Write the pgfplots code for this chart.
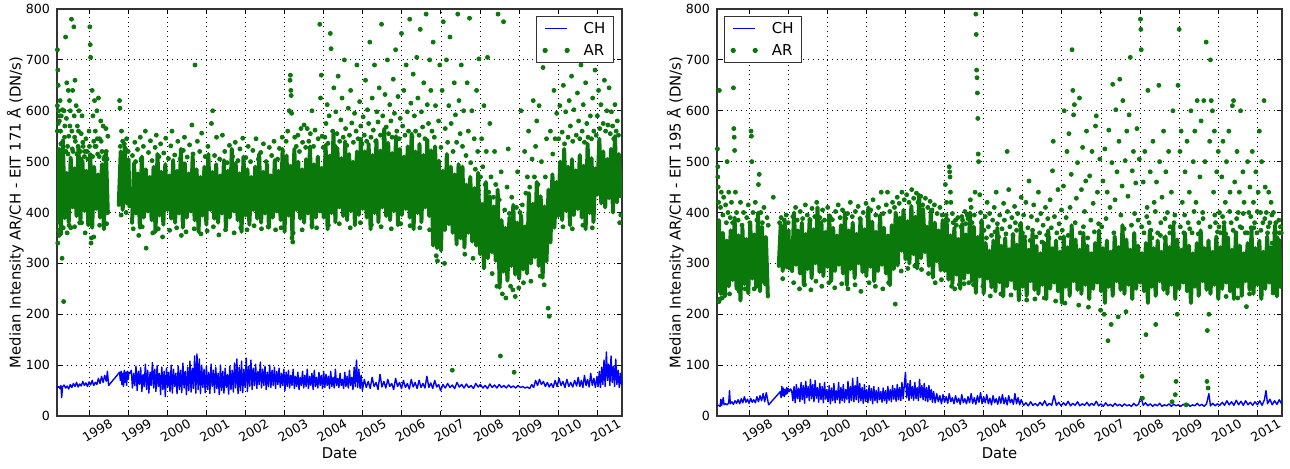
\documentclass[border=0pt]{standalone}
\usepackage{fontspec}
\setmainfont{DejaVu Sans}
\usepackage{pgfplots}
\pgfplotsset{compat=1.18}
\definecolor{argreen}{RGB}{10,120,10}
\definecolor{chblue}{RGB}{0,0,255}
\pgfplotsset{
 panel/.style={
  scale only axis, width=282.5pt, height=203.5pt,
  xmin=1997.18, xmax=2011.63, ymin=0, ymax=800,
  xtick={1998,1999,2000,2001,2002,2003,2004,2005,2006,2007,2008,2009,2010,2011},
  xticklabels={1998,1999,2000,2001,2002,2003,2004,2005,2006,2007,2008,2009,2010,2011},
  ytick={0,100,200,300,400,500,600,700,800},
  grid=major, major grid style={dotted, black, line width=0.45pt},
  tick align=inside, major tick length=2.5pt, tick style={black, line width=0.5pt},
  axis line style={black!80, line width=0.6pt},
  ticklabel style={font=\fontsize{6.3}{7.5}\selectfont},
  /pgf/number format/assume math mode=true,
  xticklabel style={rotate=30, anchor=center, yshift=-8.3pt, inner sep=0pt},
  label style={font=\fontsize{7.4}{9}\selectfont},
  xlabel={Date},
  xlabel style={at={(axis description cs:0.5,-0.092)}, anchor=center},
  ylabel style={at={(axis description cs:-0.074,0.5)}, anchor=center},
  legend cell align=left,
  legend style={draw=black!80, line width=0.6pt, font=\fontsize{7.5}{9}\selectfont,
    inner xsep=3pt, inner ysep=1.8pt, row sep=2.7pt,
    nodes={inner sep=1pt, text height=5.5pt, text depth=0.8pt},
    /tikz/every odd column/.append style={column sep=6pt}},
 },
 chline/.style={chblue, line width=0.7pt, line join=round, mark=none,
   legend image code/.code={\draw[chblue, line width=0.5pt] (0pt,0pt) -- (11pt,0pt);}},
 arcore/.style={draw=argreen, line width=2pt, line join=round, line cap=round, mark=none, forget plot},
 ardots/.style={only marks, mark=*, mark size=1pt, draw=argreen, fill=argreen, mark options={draw=argreen, fill=argreen},
   legend image code/.code={\fill[argreen] (0pt,0pt) circle (1pt); \fill[argreen] (11pt,0pt) circle (1pt);}},
}
\begin{document}
\begin{tikzpicture}
\useasboundingbox (0,0) rectangle (645pt,234pt);
% ================= LEFT PANEL: EIT 171 =================
\begin{axis}[panel, at={(28.5pt,26pt)}, anchor=south west,
  ylabel={Median Intensity AR/CH - EIT 171 Å (DN/s)},
  legend style={at={(0.986,0.983)}, anchor=north east}]
\addplot[chline] coordinates {
(1997.18,55)(1997.22,58)(1997.26,54)(1997.28,60)(1997.30,36)(1997.32,57)(1997.36,61)(1997.40,55)(1997.44,59)(1997.48,53)
(1997.52,62)(1997.56,56)(1997.60,64)(1997.64,58)(1997.68,66)(1997.72,57)(1997.76,63)(1997.80,59)(1997.84,68)(1997.88,60)
(1997.92,65)(1997.96,58)(1998.00,67)(1998.04,61)(1998.08,70)(1998.12,60)(1998.16,66)(1998.20,62)(1998.24,74)(1998.28,64)
(1998.32,78)(1998.36,66)(1998.40,80)(1998.44,68)(1998.47,88)(1998.50,60)(1998.78,86)
(1998.80,70)(1998.82,88)(1998.84,62)(1998.86,84)(1998.88,58)(1998.90,90)(1998.92,66)(1998.94,86)(1998.96,60)(1998.98,88)(1999.00,72)(1999.02,86)(1999.05,84)
(1999.08,90)(1999.11,55)(1999.14,84)(1999.17,60)(1999.20,98)(1999.23,50)(1999.26,88)(1999.29,62)(1999.32,95)(1999.35,48)
(1999.38,82)(1999.41,58)(1999.44,102)(1999.47,52)(1999.50,90)(1999.53,45)(1999.56,86)(1999.59,60)(1999.62,105)(1999.65,55)
(1999.68,92)(1999.71,48)(1999.74,99)(1999.77,58)(1999.80,84)(1999.83,42)(1999.86,96)(1999.89,52)(1999.92,88)(1999.95,38)
(1999.98,94)(2000.01,56)(2000.04,86)(2000.07,48)(2000.10,100)(2000.13,45)(2000.16,92)(2000.19,58)(2000.22,84)(2000.25,44)
(2000.28,98)(2000.31,52)(2000.34,90)(2000.37,46)(2000.40,104)(2000.43,55)(2000.46,88)(2000.49,42)(2000.52,96)(2000.55,50)
(2000.58,108)(2000.61,47)(2000.64,94)(2000.67,54)(2000.70,118)(2000.73,45)(2000.76,122)(2000.79,52)(2000.82,112)(2000.85,44)
(2000.88,100)(2000.91,56)(2000.94,92)(2000.97,46)(2001.00,98)(2001.03,52)(2001.06,86)(2001.09,44)(2001.12,102)(2001.15,58)
(2001.18,90)(2001.21,46)(2001.24,96)(2001.27,54)(2001.30,84)(2001.33,42)(2001.36,100)(2001.39,50)(2001.42,88)(2001.45,45)
(2001.48,94)(2001.51,56)(2001.54,82)(2001.57,43)(2001.60,98)(2001.63,52)(2001.66,90)(2001.69,47)(2001.72,104)(2001.75,55)
(2001.78,112)(2001.81,44)(2001.84,96)(2001.87,50)(2001.90,108)(2001.93,46)(2001.96,92)(2001.99,56)(2002.02,114)(2002.05,48)
(2002.08,98)(2002.11,58)(2002.14,110)(2002.17,52)(2002.20,94)(2002.23,60)(2002.26,102)(2002.29,54)(2002.32,88)(2002.35,62)
(2002.38,106)(2002.41,55)(2002.44,92)(2002.47,60)(2002.50,98)(2002.53,52)(2002.56,86)(2002.59,58)(2002.62,100)(2002.65,56)
(2002.68,90)(2002.71,60)(2002.74,96)(2002.77,54)(2002.80,88)(2002.83,62)(2002.86,94)(2002.89,56)(2002.92,84)(2002.95,60)
(2002.98,92)(2003.01,50)(2003.04,86)(2003.07,58)(2003.10,90)(2003.13,55)(2003.16,80)(2003.19,60)(2003.22,92)(2003.25,54)
(2003.28,78)(2003.31,58)(2003.34,86)(2003.37,52)(2003.40,76)(2003.43,60)(2003.46,88)(2003.49,55)(2003.52,80)(2003.55,58)
(2003.58,92)(2003.61,54)(2003.64,78)(2003.67,60)(2003.70,84)(2003.73,52)(2003.76,90)(2003.79,58)(2003.82,76)(2003.85,55)
(2003.88,86)(2003.91,60)(2003.94,80)(2003.97,54)(2004.00,88)(2004.03,56)(2004.06,82)(2004.09,60)(2004.12,78)(2004.15,54)
(2004.18,88)(2004.21,58)(2004.24,76)(2004.27,55)(2004.30,92)(2004.33,60)(2004.36,74)(2004.39,56)(2004.42,84)(2004.45,60)
(2004.48,72)(2004.51,54)(2004.54,86)(2004.57,58)(2004.60,78)(2004.63,55)(2004.66,90)(2004.69,60)(2004.72,76)(2004.75,52)
(2004.78,96)(2004.81,58)(2004.84,110)(2004.87,56)(2004.90,92)(2004.93,54)(2004.96,80)(2004.99,50)
(2005.04,72)(2005.09,56)(2005.14,68)(2005.19,54)(2005.24,76)(2005.29,58)(2005.34,66)(2005.39,52)(2005.44,82)(2005.49,57)
(2005.54,68)(2005.59,55)(2005.64,72)(2005.69,58)(2005.74,64)(2005.79,52)(2005.84,74)(2005.89,58)(2005.94,66)(2005.99,54)
(2006.04,70)(2006.09,56)(2006.14,64)(2006.19,53)(2006.24,72)(2006.29,57)(2006.34,66)(2006.39,54)(2006.44,70)(2006.49,56)
(2006.54,64)(2006.59,55)(2006.64,78)(2006.69,56)(2006.74,65)(2006.79,54)(2006.84,70)(2006.89,57)(2006.94,62)(2006.99,50)
(2007.05,62)(2007.11,55)(2007.17,64)(2007.23,56)(2007.29,61)(2007.35,54)(2007.41,66)(2007.47,57)(2007.53,62)(2007.59,55)
(2007.65,63)(2007.71,56)(2007.77,60)(2007.83,54)(2007.89,64)(2007.95,57)(2008.01,62)(2008.07,55)(2008.13,60)(2008.19,54)
(2008.25,63)(2008.31,56)(2008.37,61)(2008.43,55)(2008.49,62)(2008.55,56)(2008.61,60)(2008.67,55)(2008.73,61)(2008.79,56)
(2008.85,59)(2008.91,55)(2008.97,60)(2009.03,56)(2009.09,58)(2009.15,55)(2009.21,57)(2009.27,54)
(2009.32,62)(2009.37,56)(2009.42,70)(2009.47,60)(2009.52,72)(2009.57,62)(2009.62,68)(2009.67,58)(2009.72,66)(2009.77,57)
(2009.82,64)(2009.87,56)(2009.92,70)(2009.97,58)(2010.02,74)(2010.07,60)(2010.12,68)(2010.17,56)(2010.22,72)(2010.27,58)
(2010.32,66)(2010.37,57)(2010.42,70)(2010.47,59)(2010.51,76)(2010.55,58)(2010.59,70)(2010.63,56)(2010.67,80)(2010.71,60)
(2010.75,72)(2010.79,57)(2010.83,84)(2010.87,60)(2010.91,74)(2010.95,56)(2010.99,78)
(2011.02,58)(2011.05,88)(2011.08,56)(2011.11,96)(2011.14,62)(2011.17,110)(2011.20,58)(2011.23,126)(2011.26,70)(2011.29,102)
(2011.32,60)(2011.35,118)(2011.38,66)(2011.41,98)(2011.44,58)(2011.47,112)(2011.50,62)(2011.53,90)(2011.56,56)(2011.59,84)(2011.62,60)
};
\addlegendentry{CH}
% AR dense core: daily values alternate low/high, drawn as vertical streaks
\addplot[arcore] coordinates {
(1997.18,380)(1997.23,525)(1997.28,357)(1997.33,540)(1997.38,389)(1997.43,478)(1997.48,381)(1997.53,508)(1997.58,410)(1997.63,487)
(1997.68,393)(1997.73,530)(1997.78,385)(1997.83,502)(1997.88,403)(1997.93,482)(1997.98,375)(1998.03,515)(1998.08,370)(1998.13,490)
(1998.18,407)(1998.23,475)(1998.28,390)(1998.33,495)(1998.38,367)(1998.43,520)(1998.48,399)
};
\addplot[arcore] coordinates {
(1998.76,415)(1998.81,520)(1998.86,405)(1998.91,530)(1998.96,418)(1999.01,505)(1999.03,412)
};
\addplot[arcore] coordinates {
(1999.10,380)(1999.15,497)(1999.20,398)(1999.25,477)(1999.30,370)(1999.35,510)(1999.40,390)(1999.45,485)(1999.50,402)(1999.55,470)
(1999.60,385)(1999.65,490)(1999.70,362)(1999.75,515)(1999.80,394)(1999.85,480)(1999.90,376)(1999.95,495)(2000.00,405)(2000.05,473)
(2000.10,388)(2000.15,503)(2000.20,380)(2000.25,482)(2000.30,398)(2000.35,525)(2000.40,370)(2000.45,497)(2000.50,390)(2000.55,477)
(2000.60,402)(2000.65,510)(2000.70,385)(2000.75,485)(2000.80,362)(2000.85,470)(2000.90,394)(2000.95,490)(2001.00,376)(2001.05,515)
(2001.10,405)(2001.15,480)(2001.20,388)(2001.25,495)(2001.30,380)(2001.35,473)(2001.40,398)(2001.45,503)(2001.50,370)(2001.55,482)
(2001.60,390)(2001.65,525)(2001.70,402)(2001.75,497)(2001.80,385)(2001.85,477)(2001.90,362)(2001.95,510)(2002.00,394)(2002.05,485)
(2002.10,376)(2002.15,470)(2002.20,405)(2002.25,490)(2002.30,388)(2002.35,515)(2002.40,380)(2002.45,480)(2002.50,398)(2002.55,495)
(2002.60,370)(2002.65,473)(2002.70,390)(2002.75,503)(2002.80,402)(2002.85,482)(2002.90,385)(2002.95,525)(2003.00,362)(2003.05,512)
(2003.10,394)(2003.15,492)(2003.20,355)(2003.25,525)(2003.30,405)(2003.35,500)(2003.40,388)(2003.45,485)(2003.50,380)(2003.55,505)
(2003.60,398)(2003.65,530)(2003.70,370)(2003.75,495)(2003.80,390)(2003.85,510)(2003.90,402)(2003.95,488)(2004.00,390)(2004.05,533)
(2004.10,367)(2004.15,512)(2004.20,399)(2004.25,555)(2004.30,381)(2004.35,527)(2004.40,410)(2004.45,507)(2004.50,393)(2004.55,540)
(2004.60,385)(2004.65,515)(2004.70,403)(2004.75,500)(2004.80,375)(2004.85,520)(2004.90,395)(2004.95,545)(2005.00,407)(2005.05,520)
(2005.10,390)(2005.15,535)(2005.20,367)(2005.25,513)(2005.30,399)(2005.35,543)(2005.40,381)(2005.45,522)(2005.50,410)(2005.55,565)
(2005.60,393)(2005.65,537)(2005.70,385)(2005.75,517)(2005.80,403)(2005.85,550)(2005.90,375)(2005.95,525)(2006.00,395)(2006.05,510)
(2006.10,407)(2006.15,530)(2006.20,390)(2006.25,555)(2006.30,367)(2006.35,520)(2006.40,399)(2006.45,535)(2006.50,381)(2006.55,513)
(2006.60,410)(2006.65,543)(2006.70,393)(2006.75,522)(2006.80,335)(2006.85,530)(2006.90,330)(2006.95,502)(2007.00,325)(2007.05,482)
(2007.10,365)(2007.15,515)(2007.20,377)(2007.25,490)(2007.30,360)(2007.35,475)(2007.40,337)(2007.45,495)(2007.50,349)(2007.55,490)
(2007.60,331)(2007.65,455)(2007.70,360)(2007.75,470)(2007.80,343)(2007.85,448)(2007.90,335)(2007.95,478)(2008.00,318)(2008.05,417)
(2008.10,290)(2008.15,460)(2008.20,310)(2008.25,432)(2008.30,322)(2008.35,412)(2008.40,305)(2008.45,445)(2008.50,252)(2008.55,385)
(2008.60,284)(2008.65,370)(2008.70,266)(2008.75,390)(2008.80,295)(2008.85,415)(2008.90,278)(2008.95,380)(2009.00,270)(2009.05,395)
(2009.10,288)(2009.15,373)(2009.20,280)(2009.25,438)(2009.30,300)(2009.35,417)(2009.40,312)(2009.45,460)(2009.50,295)(2009.55,432)
(2009.60,272)(2009.65,412)(2009.70,304)(2009.75,445)(2009.80,341)(2009.85,475)(2009.90,370)(2009.95,460)(2010.00,393)(2010.05,500)
(2010.10,385)(2010.15,525)(2010.20,403)(2010.25,490)(2010.30,375)(2010.35,505)(2010.40,395)(2010.45,483)(2010.50,407)(2010.55,513)
(2010.60,390)(2010.65,492)(2010.70,367)(2010.75,535)(2010.80,399)(2010.85,507)(2010.90,381)(2010.95,487)(2011.00,435)(2011.05,545)
(2011.10,418)(2011.15,520)(2011.20,410)(2011.25,505)(2011.30,428)(2011.35,525)(2011.40,400)(2011.45,550)(2011.50,420)(2011.55,515)
(2011.60,432)
};
\addplot[ardots] coordinates {
(1997.19,720)(1997.20,680)(1997.21,650)(1997.19,610)(1997.22,600)(1997.20,340)(1997.23,355)(1997.24,580)(1997.26,620)(1997.27,560)
(1997.29,590)(1997.31,310)(1997.33,540)(1997.35,225)(1997.36,600)(1997.38,570)(1997.40,745)(1997.41,520)(1997.43,655)(1997.44,360)
(1997.45,530)(1997.47,640)(1997.48,550)(1997.50,620)(1997.52,600)(1997.53,370)(1997.55,780)(1997.56,560)(1997.58,640)(1997.59,520)
(1997.61,765)(1997.62,590)(1997.64,660)(1997.65,540)(1997.67,610)(1997.70,570)(1997.72,530)(1997.74,600)(1997.76,380)(1997.78,520)
(1997.80,555)(1997.82,590)(1997.85,530)(1997.88,510)(1997.90,360)(1997.92,545)(1997.95,520)(1998.00,560)(1998.02,765)(1998.03,730)
(1998.04,705)(1998.05,340)(1998.06,350)(1998.08,640)(1998.10,590)(1998.12,540)(1998.14,620)(1998.16,560)(1998.18,530)(1998.20,600)
(1998.22,515)(1998.24,625)(1998.27,545)(1998.30,580)(1998.33,520)(1998.36,570)(1998.40,510)(1998.43,565)(1998.46,505)(1998.48,550)
(1997.19,560)(1997.21,575)(1997.25,590)(1997.28,535)(1997.32,602)(1997.37,548)(1997.42,585)(1997.46,515)(1997.51,570)(1997.57,525)
(1997.63,548)(1997.69,515)(1997.73,560)(1997.79,505)(1997.84,538)(1997.89,520)(1997.97,505)(1998.01,530)(1998.09,510)(1998.15,530)
(1998.21,545)(1998.26,510)(1998.31,540)(1998.38,505)(1998.44,520)(1997.22,365)(1997.34,370)(1997.49,375)(1997.63,372)(1997.81,380)
(1998.12,352)(1998.27,375)(1998.45,378)
(1998.78,620)(1998.79,605)(1998.80,530)(1998.83,560)(1998.86,540)(1998.90,535)(1998.93,525)(1998.96,545)(1999.00,520)(1998.82,395)(1998.95,400)
(1999.11,512)(1999.17,538)(1999.19,500)(1999.24,524)(1999.31,548)(1999.33,505)(1999.39,530)(1999.44,560)(1999.52,518)(1999.57,541)
(1999.61,502)(1999.69,528)(1999.72,552)(1999.79,510)(1999.83,535)(1999.91,517)(1999.96,546)(2000.03,506)(2000.09,531)(2000.12,560)
(2000.19,513)(2000.27,540)(2000.33,505)(2000.41,522)(2000.44,548)(2000.51,509)(2000.57,533)(2000.63,572)(2000.66,515)(2000.71,690)
(2000.77,540)(2000.83,520)(2000.88,556)(2000.97,510)(2001.04,530)(2001.13,575)(2001.16,600)(2001.21,512)(2001.26,548)(2001.34,505)
(2001.41,552)(2001.47,520)(2001.53,498)(2001.59,532)(2001.67,510)(2001.74,538)(2001.81,502)(2001.86,525)(2001.93,546)(2002.01,508)
(2002.07,530)(2002.13,500)(2002.19,522)(2002.27,545)(2002.33,505)(2002.39,518)(2002.46,535)(2002.53,500)(2002.61,528)(2002.67,512)
(2002.73,540)(2002.82,505)(2002.87,526)(2002.94,548)
(1999.13,368)(1999.27,355)(1999.36,372)(1999.46,330)(1999.63,360)(1999.77,368)(1999.88,352)(2000.06,365)(2000.24,370)(2000.36,355)
(2000.48,362)(2000.69,368)(2000.86,358)(2001.02,364)(2001.18,372)(2001.32,356)(2001.49,366)(2001.71,360)(2001.88,370)(2002.04,366)
(2002.22,374)(2002.41,368)(2002.58,372)(2002.77,366)(2002.91,370)
(2003.04,540)(2003.08,560)(2003.12,600)(2003.14,660)(2003.15,670)(2003.16,640)(2003.17,630)(2003.18,595)(2003.19,350)(2003.21,342)
(2003.22,360)(2003.26,548)(2003.30,530)(2003.34,552)(2003.38,520)(2003.42,565)(2003.46,538)(2003.50,572)(2003.54,528)(2003.58,565)
(2003.62,540)(2003.66,555)(2003.70,600)(2003.74,530)(2003.78,562)(2003.82,370)(2003.86,545)(2003.90,770)(2003.92,625)(2003.94,670)
(2003.96,550)(2003.99,528)(2003.70,375)(2003.45,366)
(2004.03,548)(2004.06,575)(2004.09,612)(2004.11,536)(2004.14,590)(2004.17,752)(2004.19,722)(2004.23,560)(2004.26,645)(2004.29,530)
(2004.31,598)(2004.34,555)(2004.37,668)(2004.41,540)(2004.44,582)(2004.47,625)(2004.50,548)(2004.53,700)(2004.56,565)(2004.59,532)
(2004.63,605)(2004.66,552)(2004.69,640)(2004.72,576)(2004.76,538)(2004.79,595)(2004.83,560)(2004.85,690)(2004.88,545)(2004.92,618)
(2004.95,570)(2004.98,535)
(2005.01,588)(2005.04,552)(2005.07,660)(2005.10,540)(2005.12,602)(2005.15,575)(2005.18,735)(2005.21,548)(2005.24,625)(2005.27,562)
(2005.30,690)(2005.33,540)(2005.36,598)(2005.39,578)(2005.42,645)(2005.45,552)(2005.48,770)(2005.51,590)(2005.54,545)(2005.57,632)
(2005.60,568)(2005.63,700)(2005.66,555)(2005.69,612)(2005.72,580)(2005.75,548)(2005.78,662)(2005.81,595)(2005.84,720)(2005.87,560)
(2005.90,628)(2005.93,545)(2005.96,585)(2005.99,752)
(2006.02,570)(2006.05,640)(2006.08,552)(2006.11,690)(2006.14,598)(2006.17,560)(2006.20,780)(2006.23,615)(2006.26,548)(2006.29,672)
(2006.32,590)(2006.35,560)(2006.38,705)(2006.41,625)(2006.44,552)(2006.47,760)(2006.50,598)(2006.53,568)(2006.56,655)(2006.59,545)
(2006.62,790)(2006.65,612)(2006.68,575)(2006.71,700)(2006.74,640)(2006.77,560)(2006.80,735)
(2004.12,375)(2004.40,378)(2004.68,370)(2004.94,380)(2005.22,376)(2005.47,372)(2005.73,368)(2005.97,378)(2006.21,374)(2006.46,370)(2006.71,366)
(2006.83,548)(2006.86,610)(2006.88,315)(2006.91,305)(2006.94,580)(2006.97,690)(2007.00,528)(2007.03,640)(2007.06,775)(2007.09,300)
(2007.11,565)(2007.14,700)(2007.17,538)(2007.20,610)(2007.23,745)(2007.26,575)(2007.29,90)(2007.31,520)(2007.34,655)(2007.37,592)
(2007.40,538)(2007.43,790)(2007.46,620)(2007.49,555)(2007.52,690)(2007.55,530)(2007.58,600)(2007.61,318)(2007.64,512)(2007.67,655)
(2007.70,560)(2007.73,782)(2007.76,498)(2007.79,600)(2007.82,310)(2007.85,545)(2007.88,485)(2007.91,640)(2007.94,520)(2007.97,702)
(2008.01,470)(2008.04,545)(2008.07,490)(2008.10,610)(2008.13,455)(2008.16,520)(2008.19,705)(2008.22,440)(2008.25,575)(2008.28,470)
(2008.31,280)(2008.34,430)(2008.37,520)(2008.40,455)(2008.43,255)(2008.46,790)(2008.49,425)(2008.52,118)(2008.54,480)(2008.57,240)
(2008.60,775)(2008.63,405)(2008.66,232)(2008.69,450)(2008.72,525)(2008.75,398)(2008.78,255)(2008.81,430)(2008.84,248)(2008.87,86)
(2008.90,235)(2008.93,410)(2008.96,480)(2008.99,252)(2009.02,400)(2009.05,600)(2009.08,415)(2009.11,262)(2009.14,520)(2009.17,438)
(2009.21,470)(2009.24,560)(2009.27,450)(2009.30,265)(2009.33,505)(2009.36,620)(2009.39,470)(2009.42,530)(2009.45,580)(2009.48,455)
(2009.51,610)(2009.54,275)(2009.57,500)(2009.61,685)(2009.64,258)(2009.67,470)(2009.70,545)(2009.74,212)(2009.77,196)(2009.80,560)
(2009.83,700)(2009.86,515)(2009.89,640)(2009.92,545)(2009.96,595)
(2010.01,545)(2010.04,610)(2010.07,705)(2010.10,558)(2010.13,650)(2010.16,535)(2010.19,598)(2010.22,725)(2010.25,548)(2010.28,620)
(2010.31,570)(2010.34,668)(2010.37,540)(2010.40,602)(2010.43,760)(2010.46,552)(2010.49,635)(2010.52,580)(2010.55,545)(2010.58,690)
(2010.61,560)(2010.64,612)(2010.67,538)(2010.70,655)(2010.73,575)(2010.76,548)(2010.79,700)(2010.82,590)(2010.85,545)(2010.88,625)
(2010.91,560)(2010.94,680)(2010.97,552)
(2011.00,590)(2011.03,640)(2011.06,565)(2011.09,612)(2011.12,780)(2011.15,575)(2011.18,660)(2011.21,560)(2011.24,600)(2011.27,572)
(2011.30,645)(2011.33,555)(2011.36,598)(2011.39,570)(2011.42,545)(2011.45,612)(2011.48,560)(2011.51,580)(2011.54,552)(2011.57,380)
(2011.60,395)(2010.12,372)(2010.36,368)(2010.63,375)(2010.87,370)
};
\addlegendentry{AR}
\end{axis}
% ================= RIGHT PANEL: EIT 195 =================
\begin{axis}[panel, at={(358.5pt,26pt)}, anchor=south west,
  ylabel={Median Intensity AR/CH - EIT 195 Å (DN/s)},
  legend style={at={(0.0124,0.983)}, anchor=north west}]
\addplot[chline] coordinates {
(1997.18,20)(1997.22,21)(1997.26,19)(1997.28,33)(1997.30,21)(1997.34,36)(1997.36,22)(1997.40,24)(1997.44,22)(1997.48,26)
(1997.50,50)(1997.52,24)(1997.56,28)(1997.60,23)(1997.64,30)(1997.68,25)(1997.72,32)(1997.76,24)(1997.80,34)(1997.84,26)
(1997.88,38)(1997.92,27)(1997.96,33)(1998.00,25)(1998.04,35)(1998.08,27)(1998.12,32)(1998.16,26)(1998.20,38)(1998.24,28)
(1998.28,40)(1998.32,30)(1998.36,44)(1998.40,28)(1998.44,46)(1998.48,30)(1998.50,22)(1998.80,48)
(1998.82,36)(1998.84,58)(1998.86,40)(1998.88,55)(1998.90,38)(1998.92,52)(1998.94,42)(1998.96,56)(1998.98,44)(1999.00,54)(1999.03,48)(1999.06,53)
(1999.09,50)(1999.12,30)(1999.15,58)(1999.18,26)(1999.21,62)(1999.24,34)(1999.27,55)(1999.30,28)(1999.33,66)(1999.36,32)
(1999.39,60)(1999.42,25)(1999.45,68)(1999.48,36)(1999.51,58)(1999.54,30)(1999.57,72)(1999.60,34)(1999.63,62)(1999.66,28)
(1999.69,70)(1999.72,35)(1999.75,56)(1999.78,27)(1999.81,64)(1999.84,32)(1999.87,58)(1999.90,26)(1999.93,66)(1999.96,33)
(1999.99,52)(2000.02,28)(2000.05,60)(2000.08,24)(2000.11,55)(2000.14,30)(2000.17,64)(2000.20,26)(2000.23,50)(2000.26,32)
(2000.29,66)(2000.32,25)(2000.35,56)(2000.38,30)(2000.41,62)(2000.44,27)(2000.47,52)(2000.50,33)(2000.53,68)(2000.56,26)
(2000.59,58)(2000.62,30)(2000.65,74)(2000.68,28)(2000.71,60)(2000.74,32)(2000.77,76)(2000.80,27)(2000.83,64)(2000.86,30)
(2000.89,56)(2000.92,25)(2000.95,62)(2000.98,29)(2001.01,52)(2001.04,26)(2001.07,60)(2001.10,31)(2001.13,54)(2001.16,24)
(2001.19,58)(2001.22,30)(2001.25,50)(2001.28,26)(2001.31,56)(2001.34,32)(2001.37,48)(2001.40,27)(2001.43,55)(2001.46,30)
(2001.49,50)(2001.52,25)(2001.55,58)(2001.58,31)(2001.61,52)(2001.64,28)(2001.67,60)(2001.70,33)(2001.73,54)(2001.76,29)
(2001.79,62)(2001.82,32)(2001.85,56)(2001.88,30)(2001.91,66)(2001.94,34)(2001.97,60)(2002.00,86)(2002.03,36)(2002.06,64)
(2002.09,30)(2002.12,70)(2002.15,35)(2002.18,58)(2002.21,31)(2002.24,66)(2002.27,34)(2002.30,56)(2002.33,30)(2002.36,72)
(2002.39,36)(2002.42,60)(2002.45,32)(2002.48,64)(2002.51,30)(2002.54,56)(2002.57,28)(2002.60,60)(2002.63,32)(2002.66,52)(2002.69,27)
(2002.72,48)(2002.76,26)(2002.80,44)(2002.84,28)(2002.88,40)(2002.92,24)(2002.96,42)(2003.00,27)(2003.04,38)(2003.08,25)
(2003.12,44)(2003.16,28)(2003.20,36)(2003.24,24)(2003.28,40)(2003.32,27)(2003.36,35)(2003.40,23)(2003.44,42)(2003.48,26)
(2003.52,34)(2003.56,24)(2003.60,38)(2003.64,26)(2003.68,44)(2003.72,25)(2003.76,36)(2003.80,23)(2003.84,40)(2003.88,27)
(2003.92,46)(2003.96,24)(2004.00,38)(2004.04,26)(2004.08,42)(2004.12,24)(2004.16,35)(2004.20,22)(2004.24,40)(2004.28,26)
(2004.32,34)(2004.36,23)(2004.40,38)(2004.44,25)(2004.48,42)(2004.52,24)(2004.56,36)(2004.60,22)(2004.64,40)(2004.68,26)
(2004.72,33)(2004.76,23)(2004.80,44)(2004.84,24)(2004.88,36)(2004.92,22)(2004.96,32)
(2005.02,21)(2005.08,26)(2005.14,20)(2005.20,28)(2005.26,21)(2005.32,25)(2005.38,20)(2005.44,27)(2005.50,21)(2005.56,30)
(2005.62,20)(2005.68,25)(2005.74,21)(2005.80,40)(2005.86,21)(2005.92,27)(2005.98,20)(2006.04,26)(2006.10,21)(2006.16,29)
(2006.22,20)(2006.28,25)(2006.34,21)(2006.40,28)(2006.46,20)(2006.52,24)(2006.58,21)(2006.64,27)(2006.70,20)(2006.76,25)
(2006.82,21)(2006.88,29)(2006.94,20)(2007.00,24)(2007.06,19)(2007.12,26)(2007.18,20)(2007.24,23)(2007.30,19)(2007.36,25)
(2007.42,20)(2007.48,23)(2007.54,19)(2007.60,24)(2007.66,20)(2007.72,22)(2007.78,19)(2007.84,25)(2007.90,20)(2007.96,23)
(2008.02,38)(2008.08,21)(2008.14,26)(2008.20,20)(2008.26,24)(2008.32,19)(2008.38,23)(2008.44,20)(2008.50,25)(2008.56,19)
(2008.62,22)(2008.68,20)(2008.74,24)(2008.80,19)(2008.86,23)(2008.92,20)(2008.98,22)(2009.04,19)(2009.10,23)(2009.16,20)
(2009.22,24)(2009.28,19)(2009.34,22)(2009.40,20)(2009.46,25)(2009.52,20)(2009.58,23)(2009.64,19)(2009.70,24)(2009.76,44)
(2009.80,20)(2009.86,25)(2009.92,20)(2009.98,24)(2010.04,21)(2010.10,27)(2010.16,21)(2010.22,30)(2010.28,22)(2010.34,28)
(2010.40,21)(2010.46,31)(2010.52,22)(2010.58,29)(2010.64,21)(2010.70,30)(2010.76,22)(2010.82,27)(2010.88,21)(2010.94,28)
(2011.00,22)(2011.06,30)(2011.12,21)(2011.18,32)(2011.22,50)(2011.26,24)(2011.32,33)(2011.38,22)(2011.44,30)(2011.50,23)
(2011.56,32)(2011.62,24)
};
\addlegendentry{CH}
\addplot[arcore] coordinates {
(1997.18,245)(1997.23,385)(1997.28,240)(1997.33,360)(1997.38,235)(1997.43,345)(1997.48,255)(1997.53,365)(1997.58,267)(1997.63,390)
(1997.68,250)(1997.73,355)(1997.78,227)(1997.83,370)(1997.88,259)(1997.93,348)(1997.98,241)(1998.03,378)(1998.08,270)(1998.13,357)
(1998.18,253)(1998.23,400)(1998.28,245)(1998.33,372)(1998.38,263)(1998.43,352)(1998.48,235)
};
\addplot[arcore] coordinates {
(1998.76,295)(1998.81,375)(1998.86,285)(1998.91,380)(1998.96,292)(1999.01,365)(1999.03,290)
};
\addplot[arcore] coordinates {
(1999.10,285)(1999.15,400)(1999.20,297)(1999.25,365)(1999.30,280)(1999.35,380)(1999.40,257)(1999.45,358)(1999.50,289)(1999.55,388)
(1999.60,271)(1999.65,367)(1999.70,300)(1999.75,410)(1999.80,283)(1999.85,382)(1999.90,275)(1999.95,362)(2000.00,293)(2000.05,395)
(2000.10,265)(2000.15,370)(2000.20,285)(2000.25,355)(2000.30,297)(2000.35,375)(2000.40,280)(2000.45,400)(2000.50,257)(2000.55,365)
(2000.60,289)(2000.65,380)(2000.70,271)(2000.75,358)(2000.80,300)(2000.85,388)(2000.90,283)(2000.95,367)(2001.00,275)(2001.05,410)
(2001.10,293)(2001.15,382)(2001.20,265)(2001.25,362)(2001.30,285)(2001.35,395)(2001.40,297)(2001.45,370)(2001.50,280)(2001.55,355)
(2001.60,257)(2001.65,375)(2001.70,289)(2001.75,400)(2001.80,296)(2001.85,390)(2001.90,325)(2001.95,405)(2002.00,308)(2002.05,383)
(2002.10,300)(2002.15,413)(2002.20,318)(2002.25,392)(2002.30,290)(2002.35,435)(2002.40,310)(2002.45,407)(2002.50,322)(2002.55,372)
(2002.60,295)(2002.65,405)(2002.70,272)(2002.75,380)(2002.80,304)(2002.85,365)(2002.90,286)(2002.95,385)(2003.00,285)(2003.05,390)
(2003.10,268)(2003.15,355)(2003.20,260)(2003.25,370)(2003.30,278)(2003.35,348)(2003.40,250)(2003.45,378)(2003.50,270)(2003.55,357)
(2003.60,282)(2003.65,400)(2003.70,265)(2003.75,372)(2003.80,242)(2003.85,352)(2003.90,274)(2003.95,385)(2004.00,241)(2004.05,340)
(2004.10,270)(2004.15,325)(2004.20,253)(2004.25,345)(2004.30,245)(2004.35,370)(2004.40,263)(2004.45,335)(2004.50,235)(2004.55,350)
(2004.60,255)(2004.65,328)(2004.70,267)(2004.75,358)(2004.80,250)(2004.85,337)(2004.90,227)(2004.95,380)(2005.00,254)(2005.05,347)
(2005.10,236)(2005.15,327)(2005.20,265)(2005.25,360)(2005.30,248)(2005.35,335)(2005.40,240)(2005.45,320)(2005.50,258)(2005.55,340)
(2005.60,230)(2005.65,365)(2005.70,250)(2005.75,330)(2005.80,262)(2005.85,345)(2005.90,245)(2005.95,323)(2006.00,222)(2006.05,353)
(2006.10,254)(2006.15,332)(2006.20,236)(2006.25,375)(2006.30,265)(2006.35,347)(2006.40,248)(2006.45,327)(2006.50,240)(2006.55,360)
(2006.60,258)(2006.65,335)(2006.70,230)(2006.75,320)(2006.80,250)(2006.85,340)(2006.90,262)(2006.95,365)(2007.00,245)(2007.05,330)
(2007.10,222)(2007.15,345)(2007.20,254)(2007.25,323)(2007.30,236)(2007.35,353)(2007.40,265)(2007.45,332)(2007.50,248)(2007.55,375)
(2007.60,240)(2007.65,347)(2007.70,258)(2007.75,327)(2007.80,230)(2007.85,360)(2007.90,250)(2007.95,335)(2008.00,262)(2008.05,320)
(2008.10,245)(2008.15,340)(2008.20,222)(2008.25,365)(2008.30,254)(2008.35,330)(2008.40,236)(2008.45,345)(2008.50,265)(2008.55,323)
(2008.60,248)(2008.65,353)(2008.70,240)(2008.75,332)(2008.80,258)(2008.85,375)(2008.90,230)(2008.95,347)(2009.00,250)(2009.05,327)
(2009.10,262)(2009.15,360)(2009.20,245)(2009.25,335)(2009.30,222)(2009.35,320)(2009.40,254)(2009.45,340)(2009.50,236)(2009.55,365)
(2009.60,265)(2009.65,330)(2009.70,248)(2009.75,345)(2009.80,240)(2009.85,323)(2009.90,258)(2009.95,353)(2010.00,230)(2010.05,332)
(2010.10,250)(2010.15,375)(2010.20,262)(2010.25,347)(2010.30,245)(2010.35,327)(2010.40,230)(2010.45,360)(2010.50,254)(2010.55,335)
(2010.60,236)(2010.65,320)(2010.70,265)(2010.75,340)(2010.80,248)(2010.85,365)(2010.90,240)(2010.95,330)(2011.00,258)(2011.05,345)
(2011.10,230)(2011.15,323)(2011.20,250)(2011.25,353)(2011.30,262)(2011.35,332)(2011.40,245)(2011.45,375)(2011.50,235)(2011.55,347)
(2011.60,254)
};
\addplot[ardots] coordinates {
(1997.19,525)(1997.20,490)(1997.20,470)(1997.21,450)(1997.22,420)(1997.23,225)(1997.24,640)(1997.25,230)(1997.27,410)(1997.29,440)
(1997.31,232)(1997.33,395)(1997.35,430)(1997.37,240)(1997.40,415)(1997.42,380)(1997.44,500)(1997.46,400)(1997.48,440)(1997.50,240)
(1997.52,390)(1997.55,420)(1997.58,380)(1997.60,645)(1997.61,565)(1997.62,548)(1997.63,522)(1997.65,440)(1997.68,400)(1997.72,385)
(1997.75,245)(1997.78,420)(1997.82,375)(1997.86,400)(1997.90,250)(1997.94,390)(1997.98,415)(1998.02,380)(1998.05,560)(1998.06,550)
(1998.07,500)(1998.10,400)(1998.13,250)(1998.16,420)(1998.20,385)(1998.24,455)(1998.26,475)(1998.30,400)(1998.34,380)(1998.38,410)
(1998.42,260)(1998.46,390)(1998.49,375)(1998.62,430)
(1998.78,380)(1998.82,390)(1998.86,270)(1998.90,385)(1998.95,395)(1999.00,380)
(1999.12,392)(1999.19,410)(1999.23,385)(1999.31,402)(1999.37,388)(1999.44,415)(1999.49,395)(1999.56,385)(1999.61,408)(1999.68,392)
(1999.73,420)(1999.81,390)(1999.88,405)(1999.93,385)(2000.01,410)(2000.07,392)(2000.13,386)(2000.21,402)(2000.28,415)(2000.33,390)
(2000.39,405)(2000.47,388)(2000.52,398)(2000.59,420)(2000.64,392)(2000.72,402)(2000.79,412)(2000.84,388)(2000.92,400)(2000.99,418)
(2001.03,392)(2001.11,405)(2001.17,425)(2001.24,395)(2001.31,410)(2001.38,440)(2001.43,398)(2001.51,415)(2001.54,440)(2001.60,402)
(2001.67,420)(2001.72,410)(2001.79,430)(2001.84,418)(2001.91,440)(2001.97,425)(2002.03,435)(2002.09,420)(2002.16,445)(2002.21,428)
(2002.28,438)(2002.32,420)(2002.39,432)(2002.44,415)(2002.51,428)(2002.57,410)(2002.63,422)(2002.68,405)(2002.74,415)(2002.81,398)
(2002.88,410)(2002.94,395)
(1999.14,262)(1999.29,250)(1999.42,258)(1999.58,248)(1999.71,265)(1999.86,255)(2000.04,262)(2000.19,252)(2000.37,260)(2000.53,250)
(2000.71,258)(2000.86,245)(2001.07,262)(2001.23,255)(2001.42,250)(2001.57,262)(2001.74,220)(2001.89,285)(2002.06,290)(2002.24,295)
(2002.41,288)(2002.59,280)(2002.76,262)(2002.92,268)
(2003.02,455)(2003.05,420)(2003.08,385)(2003.12,490)(2003.13,480)(2003.14,470)(2003.15,440)(2003.16,420)(2003.18,255)(2003.22,380)
(2003.26,250)(2003.30,375)(2003.34,390)(2003.38,258)(2003.42,372)(2003.46,385)(2003.50,260)(2003.54,378)(2003.58,395)(2003.62,262)
(2003.66,425)(2003.70,380)(2003.74,258)(2003.78,440)(2003.80,790)(2003.81,750)(2003.82,680)(2003.83,665)(2003.84,635)(2003.85,585)
(2003.86,515)(2003.87,500)(2003.90,435)(2003.94,380)(2003.98,255)
(2003.04,395)(2003.20,398)(2003.28,385)(2003.44,392)(2003.52,402)(2003.60,388)(2003.68,410)(2003.76,395)(2003.92,400)
(2004.01,365)(2004.04,392)(2004.07,350)(2004.09,420)(2004.12,372)(2004.15,398)(2004.17,236)(2004.20,355)(2004.23,385)(2004.27,410)
(2004.29,362)(2004.32,440)(2004.35,378)(2004.38,352)(2004.41,395)(2004.44,240)(2004.47,368)(2004.51,418)(2004.53,385)(2004.57,358)
(2004.60,520)(2004.61,402)(2004.64,445)(2004.67,372)(2004.70,238)(2004.72,390)(2004.75,355)(2004.79,412)(2004.81,380)(2004.84,365)
(2004.87,398)(2004.91,240)(2004.93,375)(2004.96,430)(2004.99,360)
(2005.02,395)(2005.05,352)(2005.08,420)(2005.10,228)(2005.13,370)(2005.16,462)(2005.19,345)(2005.22,392)(2005.25,365)(2005.28,415)
(2005.31,230)(2005.34,352)(2005.37,385)(2005.40,440)(2005.43,360)(2005.46,398)(2005.49,342)(2005.52,375)(2005.55,232)(2005.58,410)
(2005.61,356)(2005.64,388)(2005.67,350)(2005.70,425)(2005.73,370)(2005.76,482)(2005.78,540)(2005.81,392)(2005.84,226)(2005.87,360)
(2005.90,445)(2005.93,378)(2005.96,350)(2005.99,405)
(2006.01,365)(2006.04,452)(2006.06,600)(2006.08,222)(2006.11,390)(2006.13,520)(2006.16,355)(2006.18,555)(2006.21,410)(2006.24,475)
(2006.26,720)(2006.28,640)(2006.30,592)(2006.32,612)(2006.34,380)(2006.37,428)(2006.40,498)(2006.43,218)(2006.45,625)(2006.47,360)
(2006.50,445)(2006.53,528)(2006.55,372)(2006.58,402)(2006.61,462)(2006.63,560)(2006.66,350)(2006.68,214)(2006.71,472)(2006.74,385)
(2006.77,520)(2006.80,418)(2006.83,362)(2006.86,570)(2006.88,590)(2006.91,440)(2006.94,378)(2006.97,505)(2006.99,208)
(2007.02,372)(2007.05,462)(2007.08,200)(2007.10,525)(2007.13,388)(2007.16,440)(2007.18,148)(2007.20,562)(2007.23,410)(2007.26,180)
(2007.28,498)(2007.30,652)(2007.33,360)(2007.36,425)(2007.38,602)(2007.41,480)(2007.44,195)(2007.46,540)(2007.48,662)(2007.51,395)
(2007.54,452)(2007.56,620)(2007.59,368)(2007.62,502)(2007.64,205)(2007.66,560)(2007.69,432)(2007.72,592)(2007.75,705)(2007.78,375)
(2007.80,482)(2007.83,520)(2007.86,398)(2007.89,458)(2007.92,565)(2007.95,385)(2007.98,505)
(2008.01,780)(2008.02,760)(2008.03,720)(2008.05,78)(2008.06,35)(2008.08,460)(2008.10,360)(2008.12,520)(2008.15,160)(2008.18,410)
(2008.20,640)(2008.23,380)(2008.26,480)(2008.30,350)(2008.33,540)(2008.36,420)(2008.40,180)(2008.42,460)(2008.45,360)(2008.48,650)
(2008.50,500)(2008.53,380)(2008.56,430)(2008.60,560)(2008.63,350)(2008.66,480)(2008.70,400)(2008.73,520)(2008.76,360)(2008.80,440)
(2008.82,28)(2008.84,600)(2008.87,380)(2008.90,42)(2008.92,68)(2008.95,200)(2008.97,650)(2009.00,760)(2009.02,520)(2009.05,560)
(2009.08,420)(2009.12,360)(2009.15,480)(2009.18,22)(2009.20,540)(2009.23,380)(2009.26,440)(2009.30,600)(2009.33,360)(2009.36,500)
(2009.40,560)(2009.43,420)(2009.46,620)(2009.50,380)(2009.53,470)(2009.56,580)(2009.60,400)(2009.63,620)(2009.66,500)(2009.69,735)
(2009.71,68)(2009.72,168)(2009.74,55)(2009.76,200)(2009.78,540)(2009.80,700)(2009.82,620)(2009.85,600)(2009.88,440)(2009.90,560)
(2009.93,380)(2009.96,480)
(2008.04,372)(2008.17,392)(2008.28,365)(2008.39,402)(2008.52,355)(2008.64,388)(2008.77,372)(2008.89,395)
(2009.03,372)(2009.14,395)(2009.27,368)(2009.38,402)(2009.49,358)(2009.61,388)(2009.79,372)(2009.91,395)(2009.98,362)
(2010.00,520)(2010.03,400)(2010.06,360)(2010.09,470)(2010.12,540)(2010.15,380)(2010.18,420)(2010.21,500)(2010.24,350)(2010.27,560)
(2010.30,440)(2010.33,380)(2010.36,610)(2010.39,620)(2010.42,460)(2010.45,360)(2010.48,520)(2010.51,400)(2010.54,440)(2010.57,600)
(2010.60,370)(2010.63,480)(2010.66,420)(2010.69,360)(2010.72,215)(2010.75,500)(2010.78,400)(2010.81,450)(2010.84,370)(2010.87,520)
(2010.90,420)(2010.93,380)(2010.96,480)(2010.99,360)(2011.02,440)(2011.05,560)(2011.08,400)(2011.11,500)(2011.14,380)(2011.17,620)
(2011.20,450)(2011.23,400)(2011.26,360)(2011.29,440)(2011.32,380)(2011.35,420)(2011.38,340)(2011.41,400)(2011.44,360)(2011.47,380)
(2011.50,350)(2011.53,330)(2011.56,360)(2011.59,372)(2010.20,235)(2010.50,232)(2010.80,240)(2011.10,238)(2011.40,242)
(2010.02,372)(2010.11,392)(2010.19,358)(2010.29,402)(2010.38,365)(2010.47,388)(2010.56,372)(2010.64,398)(2010.74,360)(2010.83,392)
(2010.91,370)(2011.00,402)(2011.09,365)(2011.19,388)(2011.28,372)(2011.37,395)(2011.46,362)(2011.55,385)(2011.61,360)
};
\addlegendentry{AR}
\end{axis}
\end{tikzpicture}
\end{document}
